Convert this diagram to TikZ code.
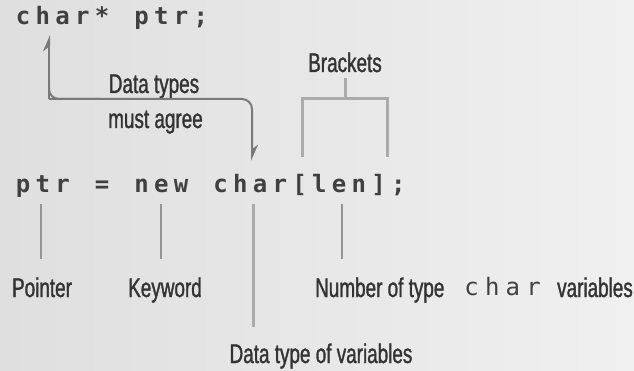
\documentclass[tikz,border=0pt]{standalone}
\usepackage{fontspec}
\setmonofont{DejaVu Sans Mono}
\newfontfamily\labfont[FakeStretch=0.7,FakeBold=1.2]{Liberation Sans}
\usetikzlibrary{arrows.meta}
\newlength\cw
\newcommand\cb[1]{\makebox[\cw][c]{#1}}
\definecolor{bgA}{HTML}{DFDFDF}
\definecolor{bgB}{HTML}{F0F0F0}
\definecolor{codecol}{HTML}{404040}
\definecolor{labcol}{HTML}{333333}
\tikzset{
  code/.style={inner sep=0pt, anchor=base west, text=codecol,
    font=\ttfamily\bfseries\fontsize{24}{28}\selectfont},
  lab/.style={inner sep=0pt, text=labcol, font=\labfont\fontsize{27}{32}\selectfont},
  conn/.style={draw=black!52, line width=2pt, rounded corners=10pt},
  tick/.style={draw=black!42, line width=2.5pt},
  brk/.style={draw=black!33, line width=3pt},
  harp/.style={-{Stealth[harpoon,length=14pt,width=12pt]}}
}
\begin{document}
\begin{tikzpicture}[x=1pt,y=-1pt]
\shade[left color=bgA, right color=bgB] (0,0) rectangle (634,371);
\useasboundingbox (0,0) rectangle (634,371);

% code lines
\setlength\cw{19.75pt}
\node[code] (l1) at (13,25) {\cb{c}\cb{h}\cb{a}\cb{r}\cb{*}\cb{ }\cb{p}\cb{t}\cb{r}\cb{;}};
\node[code] (l2) at (13,193) {\cb{p}\cb{t}\cb{r}\cb{ }\cb{=}\cb{ }\cb{n}\cb{e}\cb{w}\cb{ }\cb{c}\cb{h}\cb{a}\cb{r}\cb{[}\cb{l}\cb{e}\cb{n}\cb{]}\cb{;}};

% labels
\node[lab, anchor=base] (dt1) at (154,93) {Data types};
\node[lab, anchor=base] (dt2) at (155.5,128) {must agree};
\node[lab, anchor=base] (brl) at (345,72) {Brackets};
\node[lab, anchor=base] (ptl) at (42,297) {Pointer};
\node[lab, anchor=base] (kwl) at (165,297) {Keyword};
\node[lab, anchor=base west] (nm1) at (315,297) {Number of type};
\node[code, anchor=base west, font=\ttfamily\fontsize{24}{28}\selectfont] (nm2) at (461,295) {\setlength\cw{20.7pt}\cb{c}\cb{h}\cb{a}\cb{r}};
\node[lab, anchor=base east] (nm3) at (633,297) {variables};
\node[lab, anchor=base] (dtv) at (321,363) {Data type of variables};

% connector "data types must agree"
\coordinate (cUp) at (49,35);
\coordinate (cL) at (49,99);
\coordinate (cR) at (252,99);
\coordinate (cDn) at (252,161);
\draw[conn, harp] (cL) -- (cR) -- (cDn);
\draw[conn, harp] (cL) -- (cUp);
\draw[conn] (49,80) |- (100,99);

% brackets
\coordinate (bTop) at (345,78);
\coordinate (bMid) at (345,99);
\coordinate (bL) at (302,99);
\coordinate (bR) at (387,99);
\coordinate (bLd) at (302,156);
\coordinate (bRd) at (387,156);
\draw[brk] (bTop) -- (bMid);
\draw[brk, line cap=rect] (bLd) -- (bL) -- (bR) -- (bRd);

% ticks to labels
\coordinate (pA) at (41,204); \coordinate (pB) at (41,259);
\coordinate (kA) at (161,204); \coordinate (kB) at (161,259);
\coordinate (dA) at (253,204); \coordinate (dB) at (253,327);
\coordinate (nA) at (342,204); \coordinate (nB) at (342,259);
\draw[tick] (pA) -- (pB);
\draw[tick] (kA) -- (kB);
\draw[brk] (dA) -- (dB);
\draw[tick] (nA) -- (nB);
\end{tikzpicture}
\end{document}
